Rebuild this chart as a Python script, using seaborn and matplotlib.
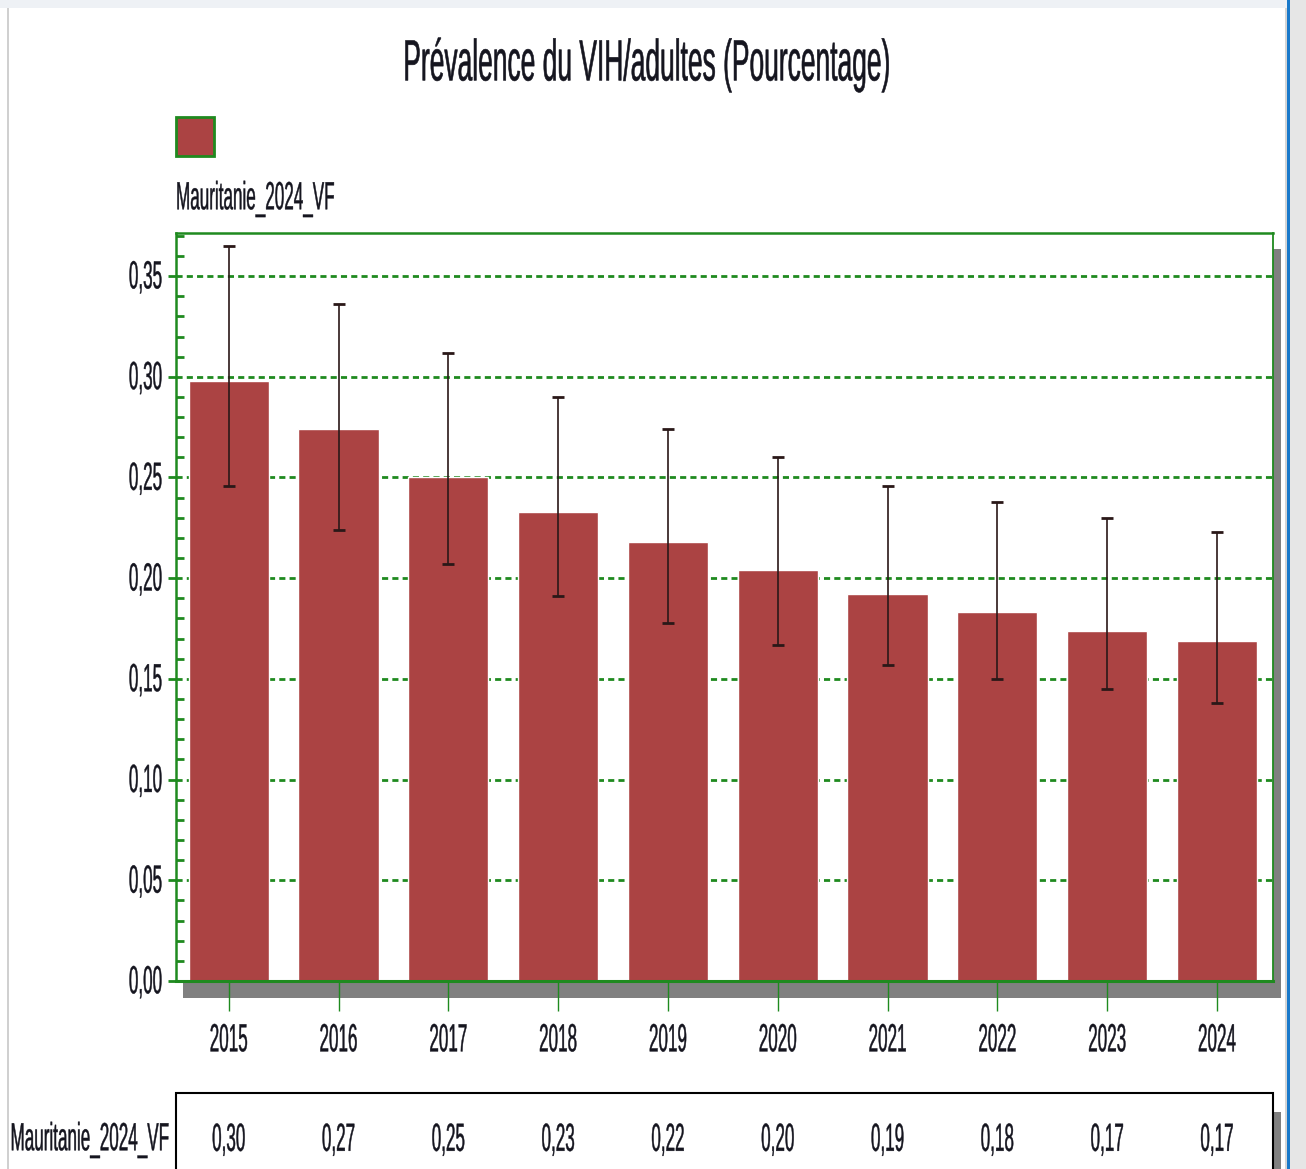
import numpy as np
import pandas as pd
import matplotlib
matplotlib.use("Agg")
import matplotlib.pyplot as plt
import matplotlib.transforms as mtransforms
from matplotlib.patches import Rectangle
from matplotlib.patheffects import AbstractPathEffect
from matplotlib.ticker import MultipleLocator, FuncFormatter
import seaborn as sns

# ----------------------
# Données
# ----------------------
annees = ["2015", "2016", "2017", "2018", "2019", "2020", "2021", "2022", "2023", "2024"]
prevalence = [0.298, 0.274, 0.250, 0.233, 0.218, 0.204, 0.192, 0.183, 0.174, 0.169]
borne_inf = [0.246, 0.224, 0.207, 0.191, 0.178, 0.167, 0.157, 0.150, 0.145, 0.138]
borne_sup = [0.365, 0.336, 0.312, 0.290, 0.274, 0.260, 0.246, 0.238, 0.230, 0.223]
serie = "Mauritanie_2024_VF"
titre = "Prévalence du VIH/adultes (Pourcentage)"

df = pd.DataFrame({"annee": annees, "prevalence": prevalence,
                   "inf": borne_inf, "sup": borne_sup})

rouge = "#AB4343"
vert = "#1F8A1F"
gris = "#808080"
encre = "#15151f"

sns.set_style("white")
plt.rcParams["font.family"] = ["Liberation Sans", "DejaVu Sans"]

W, H = 1306, 1169


def fx(x):
    return x / W


def fy(y):
    return 1 - y / H


class Etirement(AbstractPathEffect):
    """Étire le texte verticalement autour de son centre (police étroite)."""

    def __init__(self, k, trait=0.3):
        super().__init__()
        self.k = k
        self.trait = trait

    def draw_path(self, renderer, gc, tpath, affine, rgbFace=None):
        ext = tpath.get_extents(affine)
        cy = (ext.y0 + ext.y1) / 2
        t = affine + mtransforms.Affine2D().translate(0, -cy).scale(1, self.k).translate(0, cy)
        gc0 = renderer.new_gc()
        gc0.copy_properties(gc)
        gc0.set_linewidth(self.trait)
        gc0.set_foreground(rgbFace)
        renderer.draw_path(gc0, tpath, t, rgbFace)
        gc0.restore()


K = 2.3
fig = plt.figure(figsize=(W / 100, H / 100), dpi=100)

# fenêtre (bords)
fig.patches.append(Rectangle((0, fy(8)), 1, 8 / H, transform=fig.transFigure,
                             facecolor="#eef1f5", edgecolor="none", zorder=-2))
fig.patches.append(Rectangle((fx(7), 0), 2 / W, fy(8), transform=fig.transFigure,
                             facecolor="#d0d0d0", edgecolor="none", zorder=-2))
fig.patches.append(Rectangle((fx(1285), 0), 2 / W, fy(8), transform=fig.transFigure,
                             facecolor="#d4d4d4", edgecolor="none", zorder=-2))
fig.patches.append(Rectangle((fx(1287), 0), 3 / W, 1, transform=fig.transFigure,
                             facecolor="#1979ca", edgecolor="none", zorder=-2))
fig.patches.append(Rectangle((fx(1290), 0), 16 / W, 1, transform=fig.transFigure,
                             facecolor="#e6e6e6", edgecolor="none", zorder=-2))

# ombre du cadre
fig.patches.append(Rectangle((fx(183), fy(998)), (1281 - 183) / W, (998 - 249) / H,
                             transform=fig.transFigure, facecolor=gris,
                             edgecolor="none", zorder=-1))

ax = fig.add_axes([fx(176), fy(981), (1273 - 176) / W, (981 - 233) / H])
ax.set_facecolor("white")

sns.barplot(data=df, x="annee", y="prevalence", color=rouge, saturation=1,
            width=0.73, errorbar=None, ax=ax, zorder=2)
pos = np.arange(len(df))
ax.errorbar(pos, df["prevalence"],
            yerr=[df["prevalence"] - df["inf"], df["sup"] - df["prevalence"]],
            fmt="none", ecolor="#2a1818", elinewidth=1.2, capsize=4.5,
            capthick=2, zorder=3)

ax.set_xlim(-0.48, len(df) - 0.49)
ax.set_ylim(0, 0.3714)
ax.set_xlabel("")
ax.set_ylabel("")

ax.yaxis.set_major_locator(MultipleLocator(0.05))
ax.yaxis.set_minor_locator(MultipleLocator(0.01))
ax.yaxis.set_major_formatter(FuncFormatter(lambda v, p: f"{v:.2f}".replace(".", ",")))
ax.set_axisbelow(True)
ax.yaxis.grid(True, which="major", color=vert, ls=(0, (2.2, 1.5)), lw=2)

ax.tick_params(axis="y", which="major", direction="out", length=6, width=2,
               color=vert, pad=4, labelsize=12.3, labelcolor=encre, left=True)
ax.tick_params(axis="y", which="minor", direction="in", length=6, width=2,
               color=vert, left=True)
ax.tick_params(axis="x", direction="inout", length=43, width=1, color=vert,
               pad=15, labelsize=12.3, labelcolor=encre, bottom=True)

for s in ax.spines.values():
    s.set_color(vert)
    s.set_linewidth(1.8)
    s.set_visible(True)
ax.spines["bottom"].set_linewidth(2.2)
ax.spines["right"].set_linewidth(1.3)

for lab in ax.get_xticklabels() + ax.get_yticklabels():
    lab.set_path_effects([Etirement(K)])

# titre
fig.text(fx(647), fy(65), titre, ha="center", va="center", fontsize=19,
         color=encre, path_effects=[Etirement(2.2, 0.4)])

# légende
fig.patches.append(Rectangle((fx(176), fy(156)), 38 / W, 39 / H, transform=fig.transFigure,
                             facecolor=rouge, edgecolor=vert, lw=2))
fig.text(fx(176), fy(199), serie, ha="left", va="center", fontsize=12.3,
         color=encre, path_effects=[Etirement(K)])

# tableau des valeurs
fig.patches.append(Rectangle((fx(1273), 0), 8 / W, fy(1112), transform=fig.transFigure,
                             facecolor=gris, edgecolor="none", zorder=1))
fig.patches.append(Rectangle((fx(176), fy(1185)), (1273 - 176) / W, (1185 - 1093) / H,
                             transform=fig.transFigure, facecolor="white",
                             edgecolor="black", lw=1.5, zorder=2))
fig.text(fx(170), fy(1140), serie, ha="right", va="center", fontsize=12.3,
         color=encre, path_effects=[Etirement(K)])
trans = mtransforms.blended_transform_factory(ax.transData, fig.transFigure)
for i, v in enumerate(df["prevalence"]):
    fig.text(pos[i], fy(1140), f"{v:.2f}".replace(".", ","), transform=trans,
             ha="center", va="center", fontsize=12.3, color=encre,
             path_effects=[Etirement(K)], zorder=3)

fig.savefig("out.png", dpi=100)
